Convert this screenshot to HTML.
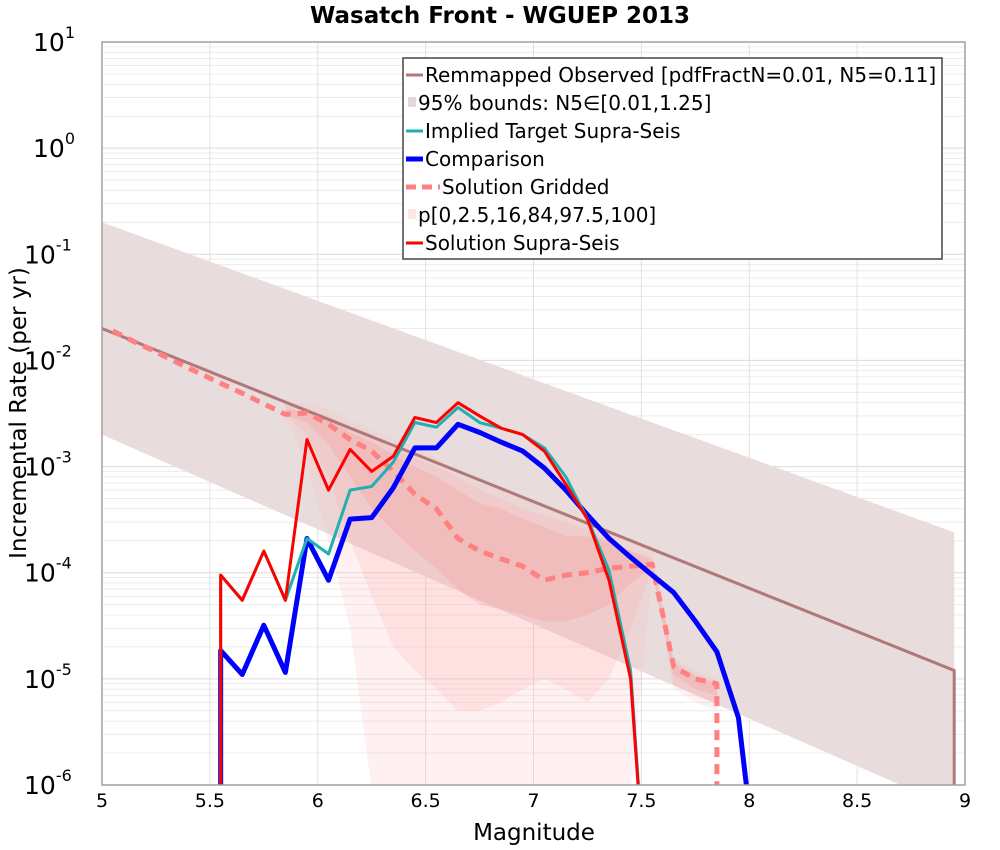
<!DOCTYPE html>
<html><head><meta charset="utf-8"><style>
body{margin:0;background:#fff;}
svg{display:block;font-family:"DejaVu Sans","Liberation Sans",sans-serif;}
</style></head><body>
<svg id="chart" width="1000" height="850" viewBox="0 0 1000 850">
<text x="500" y="23" text-anchor="middle" font-size="23" font-weight="bold">Wasatch Front - WGUEP 2013</text>
<g id="grid"></g>
<g id="fills"></g>
<g id="lines"></g>
<rect x="102" y="42" width="863" height="743" fill="none" stroke="#a0a0a0" stroke-width="1.5"/>
<g id="ticks"></g>
<text x="534" y="840" text-anchor="middle" font-size="23">Magnitude</text>
<text transform="translate(26,413) rotate(-90)" text-anchor="middle" font-size="23">Incremental Rate (per yr)</text>
<g>
<rect x="403" y="58" width="539" height="201" fill="#fff" stroke="#444" stroke-width="1.5"/>
<line x1="406" y1="75" x2="423" y2="75" stroke="#b07878" stroke-width="3"/>
<text x="425" y="82" font-size="20">Remmapped Observed [pdfFractN=0.01, N5=0.11]</text>
<rect x="408" y="97" width="8" height="10" fill="#e6d8d8"/>
<text x="418" y="110" font-size="20">95% bounds: N5∈[0.01,1.25]</text>
<line x1="406" y1="131" x2="423" y2="131" stroke="#20b0b0" stroke-width="3"/>
<text x="425" y="138" font-size="20">Implied Target Supra-Seis</text>
<line x1="406" y1="159" x2="423" y2="159" stroke="#0000ff" stroke-width="5"/>
<text x="425" y="166" font-size="20">Comparison</text>
<line x1="406" y1="187" x2="440" y2="187" stroke="#ff8080" stroke-width="5" stroke-dasharray="10,6"/>
<text x="442" y="194" font-size="20">Solution Gridded</text>
<rect x="408" y="209" width="8" height="10" fill="#fde6e6"/>
<text x="418" y="222" font-size="20">p[0,2.5,16,84,97.5,100]</text>
<line x1="406" y1="243" x2="423" y2="243" stroke="#ff0000" stroke-width="3"/>
<text x="425" y="250" font-size="20">Solution Supra-Seis</text>
</g>
</svg>
<script>
const NS="http://www.w3.org/2000/svg";
const xTicks=[5,5.5,6,6.5,7,7.5,8,8.5,9];
const xTickLabels=["5","5.5","6","6.5","7","7.5","8","8.5","9"];
const yDecades=[1,0,-1,-2,-3,-4,-5,-6];
const yTickLabels=["1","0","-1","-2","-3","-4","-5","-6"];
const obsM=[5.0,8.95];
const obsV=[2.0e-2,1.2e-5];
const boundsHi=[2.0e-1,2.4e-4];
const boundsLo=[2.0e-3,6e-7];
const mags=[5.05,5.15,5.25,5.35,5.45,5.55,5.65,5.75,5.85,5.95,6.05,6.15,6.25,6.35,6.45,6.55,6.65,6.75,6.85,6.95,7.05,7.15,7.25,7.35,7.45,7.55,7.65,7.75,7.85,7.95,8.05];
const supraV=[0,0,0,0,0,9.5e-5,5.5e-5,1.6e-4,5.5e-5,1.8e-3,6e-4,1.45e-3,9e-4,1.25e-3,2.9e-3,2.6e-3,4e-3,3e-3,2.3e-3,2e-3,1.4e-3,6.8e-4,3.2e-4,8.5e-5,1e-5,1e-14,0,0,0,0,0];
const targetV=[0,0,0,0,0,9.5e-5,5.5e-5,1.6e-4,5.5e-5,2.1e-4,1.5e-4,6e-4,6.5e-4,1.1e-3,2.6e-3,2.35e-3,3.6e-3,2.6e-3,2.3e-3,2e-3,1.5e-3,8e-4,3.2e-4,1.05e-4,1.2e-5,1e-14,0,0,0,0,0];
const compV=[0,0,0,0,0,1.85e-5,1.1e-5,3.2e-5,1.15e-5,2.1e-4,8.5e-5,3.2e-4,3.3e-4,6.3e-4,1.5e-3,1.5e-3,2.5e-3,2.1e-3,1.7e-3,1.4e-3,9.7e-4,6e-4,3.5e-4,2.1e-4,1.4e-4,9.5e-5,6.5e-5,3.5e-5,1.8e-5,4.3e-6,8e-8];
const gridV=[1.9e-2,1.5e-2,1.2e-2,9.5e-3,7.6e-3,6.1e-3,4.9e-3,3.9e-3,3.1e-3,3.2e-3,2.5e-3,1.8e-3,1.4e-3,9e-4,5.5e-4,4e-4,2.1e-4,1.6e-4,1.35e-4,1.15e-4,8.5e-5,9.5e-5,1e-4,1.1e-4,1.15e-4,1.2e-4,1.3e-5,1e-5,9e-6,0,0];
const pM=[5.85,5.95,6.05,6.15,6.25,6.35,6.45,6.55,6.65,6.75,6.85,6.95,7.05,7.15,7.25,7.35,7.45,7.55,7.65,7.75,7.85];
const p100=[4e-3,4e-3,3.5e-3,2.8e-3,2.2e-3,1.8e-3,1.5e-3,1.2e-3,9e-4,7e-4,6e-4,5e-4,4e-4,3.5e-4,3e-4,2.5e-4,2e-4,1.6e-4,1.6e-5,1.2e-5,1e-5];
const p0=[3e-3,1e-3,2e-4,3e-5,1e-9,1e-9,1e-9,1e-9,1e-9,1e-9,1e-9,1e-9,1e-9,1e-9,1e-9,1e-9,1e-9,1e-4,8e-6,6e-6,5e-6];
const p975=[3.8e-3,3.6e-3,3e-3,2.4e-3,1.9e-3,1.5e-3,1.2e-3,1e-3,8e-4,6e-4,5e-4,4e-4,3.5e-4,3e-4,2.5e-4,2e-4,1.6e-4,1.4e-4,1.5e-5,1.1e-5,9.5e-6];
const p025=[3e-3,2e-3,8e-4,2e-4,6e-5,2e-5,1.2e-5,8e-6,5e-6,5e-6,6e-6,8e-6,1e-5,8e-6,6e-6,1e-5,3e-5,1.1e-4,9e-6,7e-6,6e-6];
const p84=[3.5e-3,3.2e-3,2.7e-3,2.1e-3,1.7e-3,1.3e-3,1e-3,8e-4,6e-4,4.5e-4,4e-4,3.2e-4,2.7e-4,2.2e-4,2.2e-4,2e-4,1.6e-4,1.3e-4,1.4e-5,1.05e-5,9e-6];
const p16=[3.1e-3,2.6e-3,1.6e-3,8e-4,4e-4,2.5e-4,1.6e-4,1.1e-4,7e-5,5e-5,4.5e-5,4e-5,3.5e-5,3.5e-5,4e-5,5e-5,8e-5,1.1e-4,1.1e-5,8e-6,7e-6];
const X0=102,X1=965,Y0=42,Y1=785;
function xs(m){return X0+(m-5)/4*(X1-X0);}
function ys(v){if(v<=0)return Y1+20;let l=Math.log10(v);return Y0+(1-l)/7*(Y1-Y0);}
function mk(tag,attrs,parent){const e=document.createElementNS(NS,tag);for(const k in attrs)e.setAttribute(k,attrs[k]);parent.appendChild(e);return e;}
const grid=document.getElementById('grid'),fills=document.getElementById('fills'),lines=document.getElementById('lines'),ticks=document.getElementById('ticks');
const defs=mk('defs',{},document.getElementById('chart'));
const cp=mk('clipPath',{id:'clip'},defs);mk('rect',{x:X0,y:Y0,width:X1-X0,height:Y1-Y0},cp);
fills.setAttribute('clip-path','url(#clip)');lines.setAttribute('clip-path','url(#clip)');
for(let d=-6;d<1;d++){for(let k=2;k<10;k++){const y=ys(k*Math.pow(10,d));
const g=mk('line',{x1:X0,x2:X1,y1:y,y2:y,stroke:'#ececec','stroke-width':1},grid);

}}
yDecades.forEach((d,i)=>{const y=ys(Math.pow(10,d));
const g=mk('line',{x1:X0,x2:X1,y1:y,y2:y,stroke:'#dcdcdc','stroke-width':1},grid);


const t=mk('text',{x:X0-8,y:y+9,'font-size':25},ticks);


t.textContent='10';
const s=mk('tspan',{dy:-13,'font-size':16},t);s.textContent=yTickLabels[i];
t.setAttribute('x',X0-69-(yTickLabels[i].length-1)*9);});
xTicks.forEach((m,i)=>{const x=xs(m);
const g=mk('line',{x1:x,x2:x,y1:Y0,y2:Y1,stroke:'#e0e0e0','stroke-width':1},grid);


const t=mk('text',{x:x,y:Y1+22,'text-anchor':'middle','font-size':19},ticks);


t.textContent=xTickLabels[i];});
const band=mk('polygon',{points:[
[xs(obsM[0]),ys(boundsHi[0])],[xs(obsM[1]),ys(boundsHi[1])],[xs(obsM[1]),Y1+5],[xs(obsM[1]),ys(boundsLo[1])],[xs(obsM[0]),ys(boundsLo[0])]
].map(p=>p.join(',')).join(' '),fill:'#e8dcdc'},fills);


function bandPoly(lo,hi,fill,op,name){const pts=[];pM.forEach((m,i)=>pts.push(xs(m)+','+Math.min(ys(hi[i]),Y1+5)));for(let i=pM.length-1;i>=0;i--)pts.push(xs(pM[i])+','+Math.min(ys(lo[i]),Y1+5));
const p=mk('polygon',{points:pts.join(' '),fill:fill,'fill-opacity':op},fills);

}
bandPoly(p0,p100,'#ffb8b8',0.2,'percentile-band-0-100');
bandPoly(p025,p975,'#ffa8a8',0.22,'percentile-band-2.5-97.5');
bandPoly(p16,p84,'#f08888',0.22,'percentile-band-16-84');
function pl(M,V,stroke,w,name,dash){
// leading zeros -> vertical rise from bottom at first nonzero; trailing zeros -> vertical drop after last
let f=V.findIndex(v=>v>0);let l=V.length-1;while(l>=0&&!(V[l]>0))l--;
const pts=[];
if(f>0)pts.push(xs(M[f])+','+(Y1+20));
for(let i=f;i<=l;i++)pts.push(xs(M[i])+','+Math.min(ys(V[i]),Y1+200));
if(l<V.length-1&&V[l]>1e-9)pts.push(xs(M[l])+','+(Y1+20));
const a={points:pts.join(' '),fill:'none',stroke:stroke,'stroke-width':w,'stroke-linejoin':'round'};if(dash)a['stroke-dasharray']=dash;
const p=mk('polyline',a,lines);

return p;}
const oPts=[[xs(obsM[0]),ys(obsV[0])],[xs(obsM[1]),ys(obsV[1])],[xs(obsM[1]),Y1+10]];
const ol=mk('polyline',{points:oPts.map(p=>p.join(',')).join(' '),fill:'none',stroke:'#b07878','stroke-width':3},lines);


pl(mags,gridV,'#ff8080',5,'gridded-line','10,7');
pl(mags,compV,'#0000ff',5,'comparison-line');
pl(mags,targetV,'#20b0b0',3,'target-line');
pl(mags,supraV,'#ff0000',3,'supra-seis-line');
</script>
</body></html>
